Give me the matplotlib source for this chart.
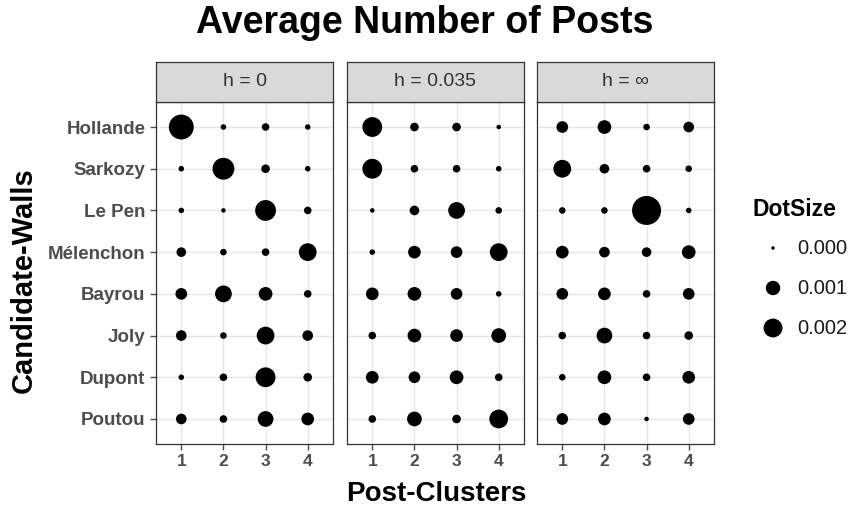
import numpy as np
import matplotlib
matplotlib.use("Agg")
import matplotlib.pyplot as plt

plt.rcParams['font.family'] = ['Liberation Sans', 'DejaVu Sans']

candidates = ["Hollande", "Sarkozy", "Le Pen", "Mélenchon", "Bayrou", "Joly", "Dupont", "Poutou"]
clusters = [1, 2, 3, 4]
panels = ["h = 0", "h = 0.035", "h = \u221e"]

# average number of posts (units of 1e-4)
h0 = [
    [38.8, 0.35, 1.41, 0.35],
    [0.35, 28.5, 2.2, 0.35],
    [0.35, 0.09, 25.4, 1.41],
    [3.17, 0.79, 1.41, 17.25],
    [5.63, 14.87, 8.8, 1.41],
    [4.31, 0.79, 17.25, 4.31],
    [0.35, 1.41, 22.5, 2.2],
    [4.31, 1.41, 12.67, 7.13],
]
h035 = [
    [22.5, 2.2, 2.2, 0.09],
    [22.5, 1.41, 1.41, 0.35],
    [0.09, 3.17, 14.87, 0.79],
    [0.35, 7.13, 5.63, 17.25],
    [7.13, 8.8, 5.63, 0.35],
    [1.41, 8.8, 7.13, 10.65],
    [7.13, 5.63, 8.8, 1.41],
    [1.41, 10.65, 2.2, 19.8],
]
hinf = [
    [5.63, 8.8, 0.79, 4.31],
    [17.25, 3.17, 1.41, 0.79],
    [0.79, 0.79, 55.0, 0.35],
    [7.13, 4.31, 3.17, 8.8],
    [5.63, 7.13, 1.41, 5.63],
    [1.41, 12.67, 1.41, 2.2],
    [0.79, 8.8, 1.41, 7.13],
    [5.63, 7.13, 0.09, 5.63],
]
unit = 1e-4
data = [np.array(h0) * unit, np.array(h035) * unit, np.array(hinf) * unit]
legend_values = [0.000, 0.001, 0.002]
legend_labels = ["0.000", "0.001", "0.002"]

W, H, DPI = 852, 512, 100
vmax = max(d.max() for d in data)
dmin, dmax = 3.5, 29.0  # diameters in px (area scale)


def size_of(v):
    d = dmin + (dmax - dmin) * np.sqrt(np.asarray(v) / vmax)
    return (d * 72.0 / DPI) ** 2


fig = plt.figure(figsize=(W / DPI, H / DPI), dpi=DPI)
fig.patch.set_facecolor("white")

lefts = [156, 347, 537]
pw = 177
ptop, pbot = 102, 444
stop = 62
border = "#333333"

for i, (left, title, vals) in enumerate(zip(lefts, panels, data)):
    ax = fig.add_axes([left / W, 1 - pbot / H, pw / W, (pbot - ptop) / H])
    ax.set_xlim(0.4, 4.6)
    ax.set_ylim(8.6, 0.4)
    ax.set_xticks(clusters)
    ax.set_yticks(range(1, len(candidates) + 1))
    ax.grid(True, color="#E6E6E6", linewidth=1.0)
    ax.set_axisbelow(True)
    for sp in ax.spines.values():
        sp.set_color(border)
        sp.set_linewidth(0.9)
    xs, ys, vs = [], [], []
    for r, cand in enumerate(candidates):
        for c, cl in enumerate(clusters):
            xs.append(cl)
            ys.append(r + 1)
            vs.append(vals[r, c])
    ax.scatter(xs, ys, s=size_of(vs), color="black", linewidths=0, zorder=3)
    ax.tick_params(axis="both", colors="#4D4D4D", length=4, width=1, labelsize=12.5)
    ax.set_xticklabels([str(c) for c in clusters], fontweight="bold", color="#4D4D4D")
    if i == 0:
        ax.set_yticklabels(candidates, fontweight="bold", color="#4D4D4D", fontsize=13.5)
    else:
        ax.set_yticklabels([])
        ax.tick_params(axis="y", length=0)
    # strip
    sax = fig.add_axes([left / W, 1 - ptop / H, pw / W, (ptop - stop) / H])
    sax.set_facecolor("#D9D9D9")
    sax.set_xticks([])
    sax.set_yticks([])
    for sp in sax.spines.values():
        sp.set_color(border)
        sp.set_linewidth(0.9)
    sax.text(0.5, 0.5, title, ha="center", va="center", fontsize=14, color="#333333",
             transform=sax.transAxes)

fig.text(0.498, 1 - 23 / H, "Average Number of Posts", ha="center", va="center",
         fontsize=27, fontweight="bold")
fig.text(24 / W, 1 - 280 / H, "Candidate-Walls", ha="center", va="center",
         rotation=90, fontsize=21, fontweight="bold")
fig.text(436 / W, 1 - 494 / H, "Post-Clusters", ha="center", va="center",
         fontsize=20, fontweight="bold")

# legend
fig.text(753 / W, 1 - 210 / H, "DotSize", ha="left", va="center", fontsize=16.5, fontweight="bold")
lax = fig.add_axes([0, 0, 1, 1], facecolor="none")
lax.set_xlim(0, W)
lax.set_ylim(H, 0)
lax.axis("off")
leg_y = [248, 288, 328]
lax.scatter([773] * 3, leg_y, s=size_of(legend_values), color="black", linewidths=0)
for y, lab in zip(leg_y, legend_labels):
    lax.text(797, y, lab, ha="left", va="center", fontsize=14.5, color="#1A1A1A")

fig.savefig("out.png", dpi=DPI)
